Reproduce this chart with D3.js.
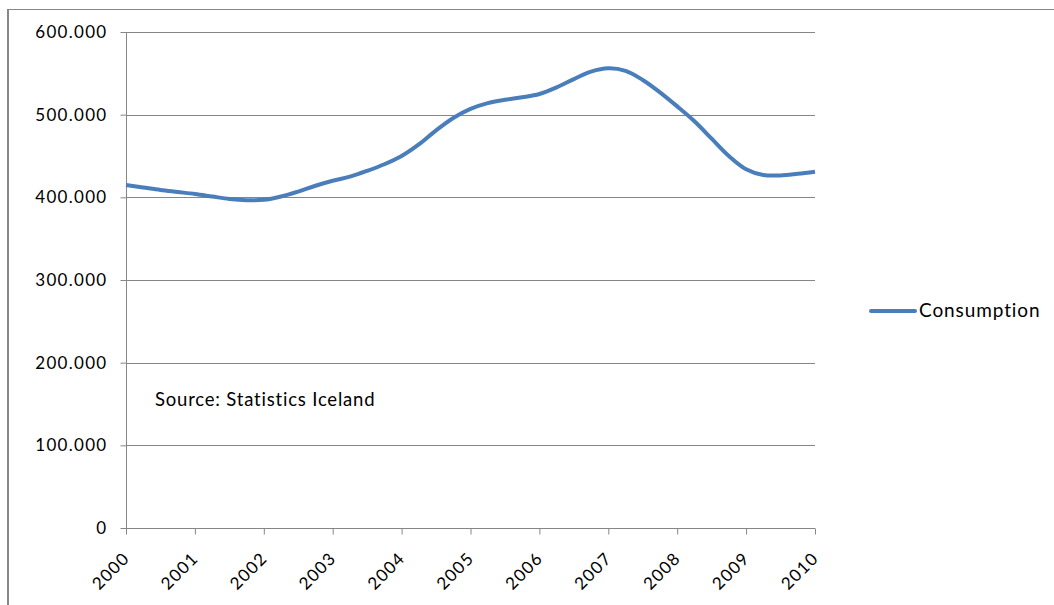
<!DOCTYPE html>
<html><head><meta charset="utf-8">
<script src="https://cdn.jsdelivr.net/npm/d3@7"></script>
<style>
body{margin:0;background:#fff;}
text{font-family:Lato,"Open Sans",sans-serif;fill:#000;}
</style></head>
<body><svg id="c" width="1054" height="605"></svg>
<script>
// ---- data (quarterly) ----
const periods = [2000,2000.25,2000.5,2000.75,2001,2001.25,2001.5,2001.75,2002,2002.25,2002.5,2002.75,
  2003,2003.25,2003.5,2003.75,2004,2004.25,2004.5,2004.75,2005,2005.25,2005.5,2005.75,
  2006,2006.25,2006.5,2006.75,2007,2007.25,2007.5,2007.75,2008,2008.25,2008.5,2008.75,
  2009,2009.25,2009.5,2009.75,2010];
const consumption = [415000,412000,409000,406500,404000,401000,398000,396500,397000,401000,407000,414000,
  420000,425000,432000,440000,450000,464000,481000,496000,507000,514000,518000,521000,
  525000,533000,543000,552000,556000,553000,542000,527000,510000,492000,471000,450000,
  434000,427000,426500,428500,431000];
const yearLabels = ["2000","2001","2002","2003","2004","2005","2006","2007","2008","2009","2010"];
const yTicks = [0,100000,200000,300000,400000,500000,600000];
const seriesName = "Consumption";
const sourceNote = "Source: Statistics Iceland";

const svg = d3.select("#c");
const gray = "#868686", blue = "#4a7ebb";
const x = d3.scaleLinear().domain([2000,2010]).range([126,815]);
const y = d3.scaleLinear().domain([0,600000]).range([528,32]);

// outer frame
svg.append("line").attr("x1",8).attr("x2",8).attr("y1",9).attr("y2",605).attr("stroke",gray).attr("stroke-width",2);
svg.append("line").attr("x1",8).attr("x2",1054).attr("y1",9.5).attr("y2",9.5).attr("stroke",gray).attr("stroke-width",1);

// gridlines + y axis
const yAxis = d3.axisLeft(y).tickValues(yTicks).tickSize(6).tickPadding(13)
  .tickFormat(d => d3.format(",")(d).replace(/,/g,"."));
const gy = svg.append("g").attr("transform","translate(126.5,0)").call(yAxis);
gy.select(".domain").attr("stroke",gray).attr("d","M0,32V528.5");
gy.selectAll(".tick line").attr("stroke",gray);
gy.selectAll(".tick text").attr("font-size","17px").attr("font-family","Lato").attr("letter-spacing","1.3px").attr("fill","#000");
svg.append("g").selectAll("line").data(yTicks).join("line")
  .attr("x1",126).attr("x2",815).attr("y1",d=>Math.round(y(d))+0.5).attr("y2",d=>Math.round(y(d))+0.5)
  .attr("stroke",gray).attr("stroke-width",1);

// x axis
const xAxis = d3.axisBottom(x).tickValues(yearLabels.map(Number)).tickSize(6).tickFormat((d,i)=>yearLabels[i]);
const gx = svg.append("g").attr("transform","translate(0,528.5)").call(xAxis);
gx.select(".domain").remove();
gx.selectAll(".tick line").attr("stroke",gray);
gx.selectAll(".tick text").attr("font-size","17px").attr("font-family","Lato").attr("letter-spacing","1.2px").attr("fill","#000")
  .attr("text-anchor","end").attr("y",0).attr("dy",0)
  .attr("transform","translate(4,31) rotate(-45)");

// series line
const line = d3.line().x((d,i)=>x(periods[i])).y(d=>y(d)).curve(d3.curveCatmullRom.alpha(0.5));
svg.append("path").datum(consumption).attr("d",line).attr("fill","none")
  .attr("stroke",blue).attr("stroke-width",4).attr("stroke-linejoin","round");

// source note
svg.append("text").attr("x",155).attr("y",406).attr("font-size","18.5px").attr("letter-spacing","0.8px").text(sourceNote);

// legend
svg.append("line").attr("x1",871).attr("x2",915).attr("y1",311).attr("y2",311).attr("stroke",blue).attr("stroke-width",4).attr("stroke-linecap","round");
svg.append("text").attr("x",919).attr("y",317).attr("font-size","19px").attr("letter-spacing","0.9px").text(seriesName);
</script></body></html>
